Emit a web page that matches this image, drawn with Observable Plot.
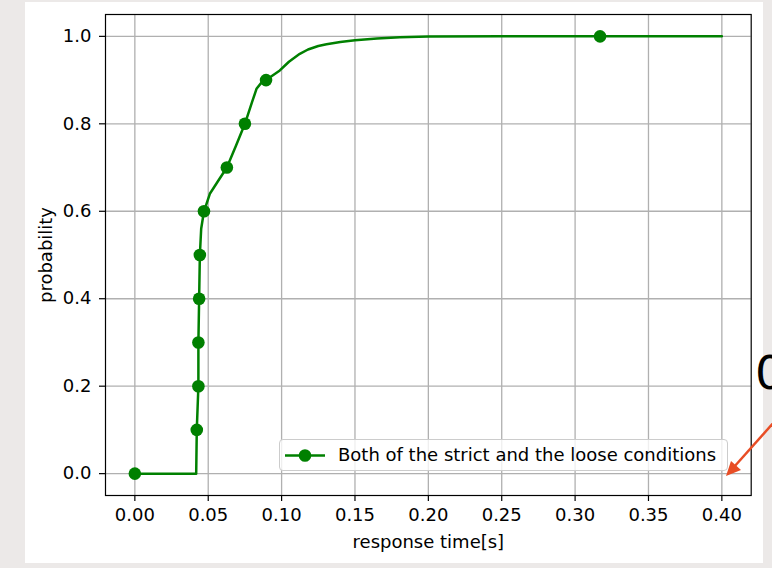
<!DOCTYPE html>
<html><head><meta charset="utf-8">
<script src="https://cdn.jsdelivr.net/npm/d3@7"></script>
<script src="https://cdn.jsdelivr.net/npm/@observablehq/plot@0.6"></script>
<style>
html,body{margin:0;padding:0;background:#ece9e8;width:772px;height:568px;overflow:hidden;font-family:"DejaVu Sans",sans-serif;}
#panel{position:absolute;left:25px;top:2px;width:738px;height:561px;background:#fff;}
#chart{position:absolute;left:0;top:0;}
#legend{position:absolute;left:279px;top:439px;width:447px;height:30px;border:1px solid #cccccc;border-radius:4px;background:rgba(255,255,255,0.8);box-sizing:content-box;}
#legend svg{position:absolute;left:0;top:0;}
#legend span{position:absolute;left:58px;top:4px;font-size:18px;color:#000;white-space:nowrap;}
#anno{position:absolute;left:0;top:0;pointer-events:none;}
</style></head><body>
<div id="panel"></div>
<div id="chart"></div>
<div id="legend"></div>
<svg id="anno" width="772" height="568">
  <text x="755" y="389" font-family="DejaVu Sans" font-size="47" fill="#000">0</text>
  <line x1="775" y1="421" x2="734" y2="467" stroke="#e84d25" stroke-width="2.5"/>
  <polygon points="726,476 731,461 741,470" fill="#e84d25"/>
</svg>
<script>
const seriesName = "Both of the strict and the loose conditions";
const xLabel = "response time[s]";
const yLabel = "probability";

// dense CDF curve
const curveX = [0, 0.0418, 0.0422, 0.0433, 0.0433, 0.0438, 0.0443, 0.0452, 0.0471, 0.0511, 0.0565, 0.0627, 0.0689, 0.0750, 0.0799, 0.0829, 0.0860, 0.0894, 0.0988, 0.1050, 0.1124, 0.1180, 0.1250, 0.1306, 0.1400, 0.1500, 0.1650, 0.1806, 0.2000, 0.2500, 0.3170, 0.4000];
const curveY = [0, 0, 0.1, 0.2, 0.3, 0.4, 0.5, 0.56, 0.6, 0.64, 0.668, 0.7, 0.75, 0.8, 0.85, 0.88, 0.893, 0.9, 0.922, 0.942, 0.960, 0.970, 0.978, 0.982, 0.987, 0.991, 0.995, 0.998, 0.9995, 1, 1, 1];

// marker points
const markerX = [0, 0.0422, 0.0433, 0.0433, 0.0438, 0.0443, 0.0471, 0.0627, 0.0750, 0.0894, 0.3170];
const markerY = [0, 0.1, 0.2, 0.3, 0.4, 0.5, 0.6, 0.7, 0.8, 0.9, 1.0];

const xTicks = [0, 0.05, 0.10, 0.15, 0.20, 0.25, 0.30, 0.35, 0.40];
const yTicks = [0, 0.2, 0.4, 0.6, 0.8, 1.0];

const curve = curveX.map((x, i) => ({x, y: curveY[i]}));
const markers = markerX.map((x, i) => ({x, y: markerY[i]}));

const green = "#008000";
const chart = Plot.plot({
  width: 772, height: 568,
  marginLeft: 105, marginTop: 14, marginRight: 21.3, marginBottom: 73,
  x: {domain: [-0.02, 0.42]},
  y: {domain: [-0.05, 1.05]},
  style: {background: "transparent", fontFamily: "DejaVu Sans", fontSize: "18px", color: "#000", overflow: "visible"},
  marks: [
    Plot.gridX(xTicks, {stroke: "#b0b0b0", strokeOpacity: 1, strokeWidth: 1.3}),
    Plot.gridY(yTicks, {stroke: "#b0b0b0", strokeOpacity: 1, strokeWidth: 1.3}),
    Plot.line(curve, {x: "x", y: "y", stroke: green, strokeWidth: 2.5}),
    Plot.dot(markers, {x: "x", y: "y", r: 6.3, fill: green, stroke: "none"}),
    Plot.frame({stroke: "#000", strokeWidth: 1.2}),
    Plot.axisX(xTicks, {tickFormat: d3.format(".2f"), tickSize: 6, tickPadding: 7, stroke: "#000", strokeWidth: 1.2, fontSize: 18,
      label: xLabel, labelAnchor: "center", labelArrow: "none", labelOffset: 52}),
    Plot.axisY(yTicks, {tickFormat: d3.format(".1f"), tickSize: 6, tickPadding: 8, stroke: "#000", strokeWidth: 1.2, fontSize: 18,
      label: yLabel, labelAnchor: "center", labelArrow: "none", labelOffset: 66})
  ]
});
document.getElementById("chart").appendChild(chart);

// legend
const lg = document.getElementById("legend");
const ns = "http://www.w3.org/2000/svg";
const sw = document.createElementNS(ns, "svg");
sw.setAttribute("width", "50"); sw.setAttribute("height", "30");
const ln = document.createElementNS(ns, "line");
ln.setAttribute("x1", 5); ln.setAttribute("x2", 45); ln.setAttribute("y1", 15.5); ln.setAttribute("y2", 15.5);
ln.setAttribute("stroke", green); ln.setAttribute("stroke-width", 2.5);
const c = document.createElementNS(ns, "circle");
c.setAttribute("cx", 25); c.setAttribute("cy", 15.5); c.setAttribute("r", 6.3); c.setAttribute("fill", green);
sw.appendChild(ln); sw.appendChild(c);
lg.appendChild(sw);
const sp = document.createElement("span");
sp.textContent = seriesName;
lg.appendChild(sp);
</script>
</body></html>
